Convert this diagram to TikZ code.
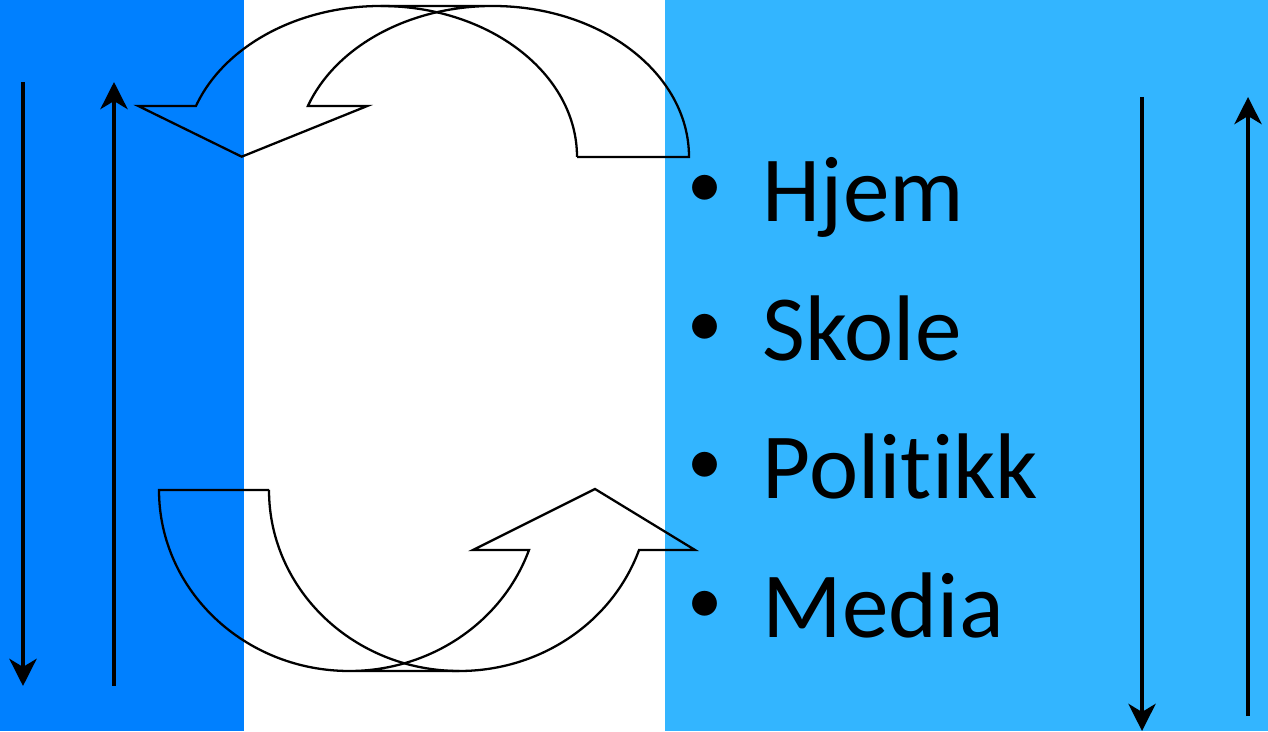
\documentclass[tikz,border=0pt]{standalone}
\usepackage{fontspec}
\setmainfont{Carlito}[Ligatures=NoCommon]
\usetikzlibrary{arrows.meta}
\definecolor{DeepBlue}{HTML}{0080FF}
\definecolor{SkyBlue}{HTML}{33B5FF}

\begin{document}
\begin{tikzpicture}[x=0.01cm,y=0.01cm,
    arr/.style={-{Stealth[length=0.27cm,width=0.27cm,inset=0.08cm]},line width=1.35pt},
    band/.style={draw=black,line width=0.65pt,line join=miter},
    item/.style={anchor=base west,inner sep=0pt,font=\fontsize{26.5}{30}\selectfont},
    dot/.style={anchor=base west,inner sep=0pt,font=\fontsize{20}{24}\selectfont}]
  \useasboundingbox (0,0) rectangle (1268,731);
  \fill[DeepBlue] (0,0) rectangle (244,731);
  \fill[SkyBlue] (665,0) rectangle (1268,731);
  % curved arrow, top
  \draw[band] (577,574) -- (689,574) arc[start angle=0,end angle=90,x radius=196.3,y radius=151]
    -- (380.7,725) arc[start angle=90,end angle=160.26,x radius=196.3,y radius=151]
    -- (138.3,625) -- (241.7,574.3) -- (367.3,625) -- (307.9,625)
    arc[start angle=160.26,end angle=90,x radius=196.3,y radius=151];
  \draw[band] (577,574) arc[start angle=0,end angle=90,x radius=196.3,y radius=151];
  % curved arrow, bottom
  \draw[band] (269,241) -- (159,241) arc[start angle=180,end angle=270,x radius=190.4,y radius=181]
    -- (459.4,60) arc[start angle=270,end angle=340.64,x radius=190.4,y radius=181]
    -- (695,181) -- (595,242) -- (473,181) -- (529,181)
    arc[start angle=340.64,end angle=270,x radius=190.4,y radius=181];
  \draw[band] (269,241) arc[start angle=180,end angle=270,x radius=190.4,y radius=181];
  % straight arrows
  \coordinate (ldown-s) at (23,649);  \coordinate (ldown-e) at (23,45);
  \coordinate (lup-s) at (114,45);    \coordinate (lup-e) at (114,649);
  \coordinate (rdown-s) at (1142,634); \coordinate (rdown-e) at (1142,0);
  \coordinate (rup-s) at (1248,15);   \coordinate (rup-e) at (1248,634);
  \draw[arr] (ldown-s) -- (ldown-e);
  \draw[arr] (lup-s) -- (lup-e);
  \draw[arr] (rdown-s) -- (rdown-e);
  \draw[arr] (rup-s) -- (rup-e);
  % list
  \foreach \name/\txt/\yb in {hjem/Hjem/509,skole/Skole/370.5,politikk/Politikk/232,media/Media/93.5} {
    \node[dot] (b-\name) at (686.5,\yb+14) {•};
    \node[item] (\name) at (762,\yb) {\txt};
  }
\end{tikzpicture}
\end{document}
